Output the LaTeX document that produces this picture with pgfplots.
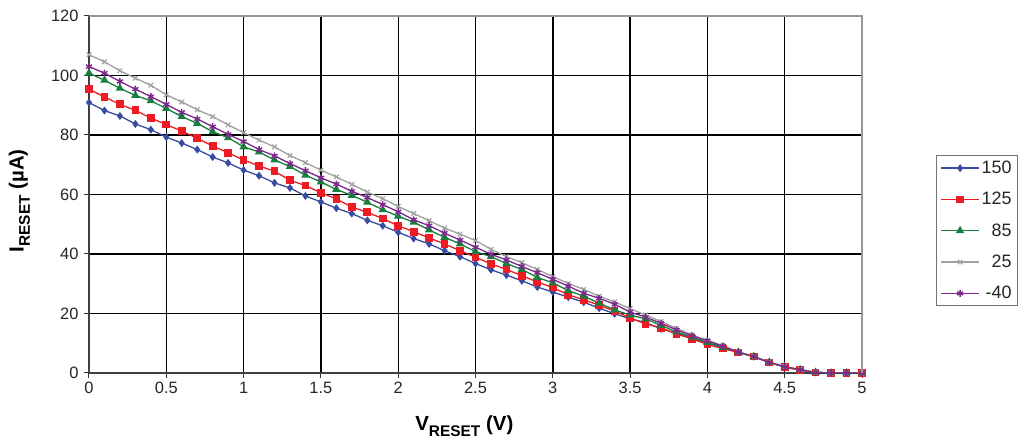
\documentclass[border=0pt]{standalone}
\usepackage{fontspec}
\setmainfont{Liberation Sans}
\usepackage{pgfplots}
\usepackage{pgfplotstable}
\pgfplotsset{compat=1.18}
\definecolor{cblue}{RGB}{55,75,160}
\definecolor{cred}{RGB}{237,28,36}
\definecolor{cgreen}{RGB}{20,128,60}
\definecolor{cgray}{RGB}{160,160,160}
\definecolor{cpurple}{RGB}{125,40,140}
\definecolor{framegray}{RGB}{150,150,150}
\newcommand{\sub}[1]{\raisebox{-0.3em}{\fontsize{15.5}{16}\selectfont #1}}

\pgfplotstableread{
x y
0.0 90.9
0.1 88.2
0.2 86.4
0.3 83.7
0.4 81.8
0.5 79.3
0.6 77.3
0.7 75.1
0.8 72.6
0.9 70.6
1.0 68.2
1.1 66.3
1.2 63.9
1.3 62.2
1.4 59.5
1.5 57.5
1.6 55.4
1.7 53.6
1.8 51.3
1.9 49.5
2.0 47.3
2.1 45.2
2.2 43.4
2.3 41.1
2.4 39.1
2.5 36.8
2.6 34.7
2.7 32.9
2.8 31.0
2.9 28.9
3.0 27.2
3.1 25.5
3.2 23.8
3.3 21.8
3.4 19.9
3.5 18.2
3.6 17.0
3.7 14.8
3.8 13.4
3.9 11.8
4.0 10.0
4.1 8.6
4.2 7.0
4.3 5.5
4.4 3.6
4.5 2.0
4.6 1.0
4.7 0.2
4.8 0.0
4.9 0.0
5.0 0.0
}\tblA

\pgfplotstableread{
x y
0.0 95.4
0.1 92.8
0.2 90.3
0.3 88.3
0.4 85.7
0.5 83.5
0.6 81.3
0.7 78.9
0.8 76.3
0.9 74.0
1.0 71.6
1.1 69.6
1.2 67.8
1.3 64.8
1.4 63.0
1.5 60.6
1.6 58.5
1.7 55.8
1.8 54.0
1.9 51.9
2.0 49.5
2.1 47.5
2.2 45.4
2.3 43.4
2.4 41.1
2.5 38.9
2.6 36.7
2.7 34.8
2.8 32.7
2.9 30.6
3.0 28.7
3.1 26.3
3.2 24.6
3.3 22.8
3.4 20.8
3.5 18.5
3.6 16.5
3.7 15.2
3.8 13.1
3.9 11.5
4.0 9.6
4.1 8.2
4.2 6.9
4.3 5.5
4.4 3.5
4.5 2.0
4.6 1.0
4.7 0.2
4.8 0.0
4.9 0.0
5.0 0.0
}\tblB

\pgfplotstableread{
x y
0.0 100.8
0.1 98.4
0.2 95.7
0.3 93.3
0.4 91.5
0.5 88.9
0.6 86.2
0.7 83.9
0.8 81.1
0.9 79.1
1.0 76.0
1.1 74.3
1.2 71.6
1.3 69.4
1.4 66.5
1.5 64.2
1.6 61.7
1.7 59.7
1.8 57.4
1.9 54.9
2.0 52.7
2.1 50.7
2.2 48.1
2.3 45.6
2.4 43.4
2.5 40.8
2.6 39.1
2.7 36.8
2.8 34.8
2.9 32.1
3.0 30.3
3.1 27.7
3.2 25.8
3.3 23.5
3.4 21.2
3.5 19.5
3.6 18.2
3.7 16.0
3.8 13.8
3.9 12.0
4.0 10.3
4.1 8.6
4.2 7.0
4.3 5.5
4.4 3.6
4.5 2.1
4.6 1.1
4.7 0.2
4.8 0.0
4.9 0.0
5.0 0.0
}\tblC

\pgfplotstableread{
x y
0.0 107.0
0.1 104.6
0.2 101.6
0.3 99.1
0.4 96.7
0.5 93.5
0.6 91.1
0.7 88.5
0.8 86.2
0.9 83.4
1.0 80.8
1.1 78.3
1.2 76.0
1.3 73.1
1.4 70.7
1.5 68.2
1.6 65.9
1.7 63.4
1.8 60.8
1.9 58.6
2.0 56.0
2.1 53.6
2.2 51.2
2.3 48.7
2.4 46.7
2.5 44.5
2.6 41.6
2.7 39.1
2.8 37.1
2.9 34.8
3.0 32.4
3.1 30.1
3.2 28.1
3.3 25.8
3.4 23.9
3.5 21.6
3.6 19.5
3.7 17.3
3.8 15.0
3.9 12.8
4.0 11.0
4.1 9.2
4.2 7.1
4.3 5.5
4.4 3.7
4.5 2.2
4.6 1.2
4.7 0.3
4.8 0.0
4.9 0.0
5.0 0.0
}\tblD

\pgfplotstableread{
x y
0.0 103.0
0.1 100.8
0.2 98.0
0.3 95.4
0.4 92.9
0.5 90.3
0.6 87.6
0.7 85.4
0.8 82.8
0.9 80.2
1.0 77.8
1.1 75.1
1.2 73.0
1.3 70.4
1.4 68.0
1.5 65.6
1.6 63.5
1.7 61.1
1.8 59.0
1.9 56.6
2.0 54.2
2.1 51.5
2.2 49.5
2.3 47.0
2.4 44.7
2.5 42.3
2.6 39.9
2.7 38.0
2.8 35.8
2.9 33.7
3.0 31.5
3.1 29.2
3.2 26.8
3.3 25.1
3.4 23.1
3.5 20.5
3.6 18.8
3.7 16.7
3.8 14.5
3.9 12.5
4.0 10.8
4.1 9.0
4.2 7.0
4.3 5.5
4.4 3.6
4.5 2.1
4.6 1.1
4.7 0.2
4.8 0.0
4.9 0.0
5.0 0.0
}\tblE

\begin{document}
\begin{tikzpicture}[x=1bp,y=1bp]
\path (-89,-68) rectangle (938,357+16);
\begin{axis}[
  at={(0,0)}, anchor=south west,
  scale only axis, width=773bp, height=357bp,
  xmin=0, xmax=5, ymin=0, ymax=120,
  xtick={0,0.5,1,1.5,2,2.5,3,3.5,4,4.5,5},
  ytick={0,20,40,60,80,100,120},
  /pgf/number format/assume math mode=true,
  ticklabel style={font=\fontsize{16.5}{18}\selectfont, text=black!85},
  axis lines*=left,
  axis line style={black!75, line width=1.2bp},
  tick style={black!80, line width=1bp},
  tick align=outside,
  major tick length=5bp,
  grid=major,
  major grid style={black, line width=1.4bp},
  xticklabel style={yshift=-1bp},
  yticklabel style={xshift=-2bp},
  xlabel={\bfseries V\sub{RESET} (V)},
  ylabel={\bfseries I\sub{RESET} (µA)},
  label style={font=\fontsize{20.5}{22}\selectfont},
  xlabel style={at={(axis description cs:0.4855,-0.148)}, anchor=center},
  ylabel style={at={(axis description cs:-0.090,0.482)}, anchor=center, rotate=0},
  legend style={at={(axis description cs:1.0955,0.6105)}, anchor=north west,
    draw=black!55, line width=1.2bp, font=\fontsize{18}{20}\selectfont,
    inner xsep=4bp, inner ysep=3.5bp, row sep=13.3bp, text=black!85},
  legend cell align=right,
  legend image code/.code={\draw[mark repeat=2,mark phase=2] plot coordinates {(0bp,0bp) (19bp,0bp) (38bp,0bp)};},
  every axis plot/.append style={line width=1.3bp},
  after end axis/.code={\draw[framegray, line width=2bp] (rel axis cs:0,1) -- (rel axis cs:1,1) -- (rel axis cs:1,0);},
]
\addplot[cblue, mark=diamond*, mark size=3bp, mark options={solid, fill=cblue}] table[x=x,y=y] {\tblA};
\addlegendentry{150}
\addplot[cred, mark=square*, mark size=3.2bp, mark options={solid, fill=cred}] table[x=x,y=y] {\tblB};
\addlegendentry{125}
\addplot[cgreen, mark=triangle*, mark size=3.6bp, mark options={solid, fill=cgreen}] table[x=x,y=y] {\tblC};
\addlegendentry{85}
\addplot[cgray, mark=x, mark size=3.2bp, mark options={solid, line width=1.2bp}] table[x=x,y=y] {\tblD};
\addlegendentry{25}
\addplot[cpurple, mark=asterisk, mark size=3.5bp, mark options={solid, line width=1.4bp}] table[x=x,y=y] {\tblE};
\addlegendentry{-40}
\end{axis}
\end{tikzpicture}
\end{document}
